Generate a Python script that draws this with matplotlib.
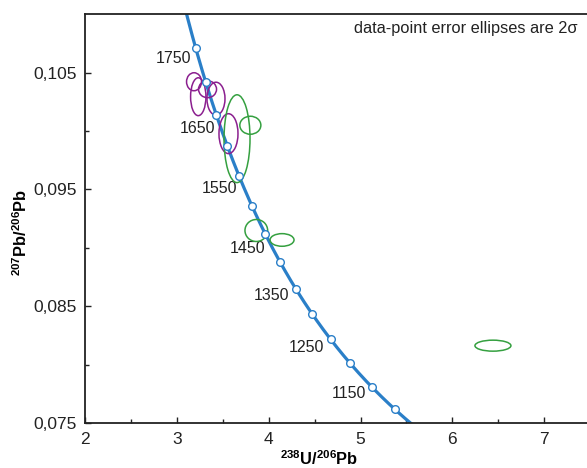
import numpy as np
import matplotlib
matplotlib.use("Agg")
import matplotlib.pyplot as plt
from matplotlib.patches import Ellipse

plt.rcParams['font.family'] = ['Liberation Sans', 'DejaVu Sans']
plt.rcParams['mathtext.fontset'] = 'custom'
plt.rcParams['mathtext.rm'] = 'Liberation Sans'
plt.rcParams['mathtext.bf'] = 'Liberation Sans:bold'

# decay constants (1/yr) and present-day 238U/235U
lam238 = 1.55125e-10
lam235 = 9.8485e-10
u_ratio = 137.88

# concordia age markers (Ma) and which of them get a label
marker_ages = [1100, 1150, 1200, 1250, 1300, 1350, 1400, 1450, 1500,
               1550, 1600, 1650, 1700, 1750]
label_ages = [1750, 1650, 1550, 1450, 1350, 1250, 1150]
label_offsets = [(-5, -10), (-1, -14), (-2, -12), (0, -14), (-6, -7), (-6, -8), (-6, -7)]

# analyses: 238U/206Pb, 207Pb/206Pb and 2-sigma ellipse full widths
grp1_x = [3.187, 3.233, 3.334, 3.426, 3.562]
grp1_y = [0.10421, 0.10293, 0.10357, 0.10276, 0.09977]
grp1_w = [0.163, 0.167, 0.196, 0.196, 0.207]
grp1_h = [0.00154, 0.00324, 0.00145, 0.00282, 0.00341]

grp2_x = [3.655, 3.800, 3.865, 4.145, 6.441]
grp2_y = [0.09934, 0.10049, 0.09149, 0.09068, 0.08164]
grp2_w = [0.283, 0.229, 0.247, 0.261, 0.392]
grp2_h = [0.00751, 0.00154, 0.00188, 0.00108, 0.00094]


def concordia(t_ma):
    t = np.asarray(t_ma, dtype=float) * 1e6
    e8 = np.exp(lam238 * t) - 1
    e5 = np.exp(lam235 * t) - 1
    return 1 / e8, e5 / e8 / u_ratio


fig = plt.figure(figsize=(5.87, 4.68), dpi=100)
ax = fig.add_axes([0.1448, 0.0955, 1 - 0.1448, 0.970 - 0.0955])

blue = '#2a7fc8'
purple = '#8b1f8f'
green = '#35a040'

cx, cy = concordia(np.arange(1000, 1901, 2))
ax.plot(cx, cy, color=blue, lw=2.3, zorder=2)

mx, my = concordia(marker_ages)
ax.plot(mx, my, 'o', ms=5.5, mfc='white', mec=blue, mew=1.0, zorder=4)

for age, off in zip(label_ages, label_offsets):
    lx, ly = concordia([age])
    ax.annotate(str(age), (lx[0], ly[0]), xytext=off, textcoords='offset pixels',
                ha='right', va='center', fontsize=11.5, color='#222222')

for xs, ys, ws, hs, col in [(grp1_x, grp1_y, grp1_w, grp1_h, purple),
                            (grp2_x, grp2_y, grp2_w, grp2_h, green)]:
    for x, y, w, h in zip(xs, ys, ws, hs):
        ax.add_patch(Ellipse((x, y), w, h, fill=False, ec=col, lw=1.1, zorder=3))

ax.set_xlim(2, 7.465)
ax.set_ylim(0.075, 0.110)
ax.set_xticks([2, 3, 4, 5, 6, 7])
ax.set_xticks([2.5, 3.5, 4.5, 5.5, 6.5], minor=True)
ax.set_yticks([0.075, 0.085, 0.095, 0.105])
ax.set_yticklabels(['0,075', '0,085', '0,095', '0,105'])
ax.set_yticks([0.080, 0.090, 0.100], minor=True)
ax.tick_params(which='both', direction='in', labelsize=12.5, colors='#222222', width=1)
ax.tick_params(which='major', length=4, pad=6)
ax.tick_params(which='minor', length=3)
ax.spines['right'].set_visible(False)
for s in ['left', 'bottom', 'top']:
    ax.spines[s].set_linewidth(1.3)
    ax.spines[s].set_color('#222222')

ax.set_xlabel(r'$\mathbf{^{238}U/^{206}Pb}$', fontsize=11.8, va='center', ha='center')
ax.set_ylabel(r'$\mathbf{^{207}Pb/^{206}Pb}$', fontsize=11.8, va='center', ha='center')
ax.xaxis.set_label_coords((319 - 85) / 502, -(459 - 423.3) / 409.3)
ax.yaxis.set_label_coords(-(85 - 21) / 502, (423.3 - 232) / 409.3)

ax.text(578 / 587, 0.940, 'data-point error ellipses are 2σ',
        transform=fig.transFigure, ha='right', va='center',
        fontsize=11.8, color='#222222')

fig.savefig('out.png', dpi=100)
